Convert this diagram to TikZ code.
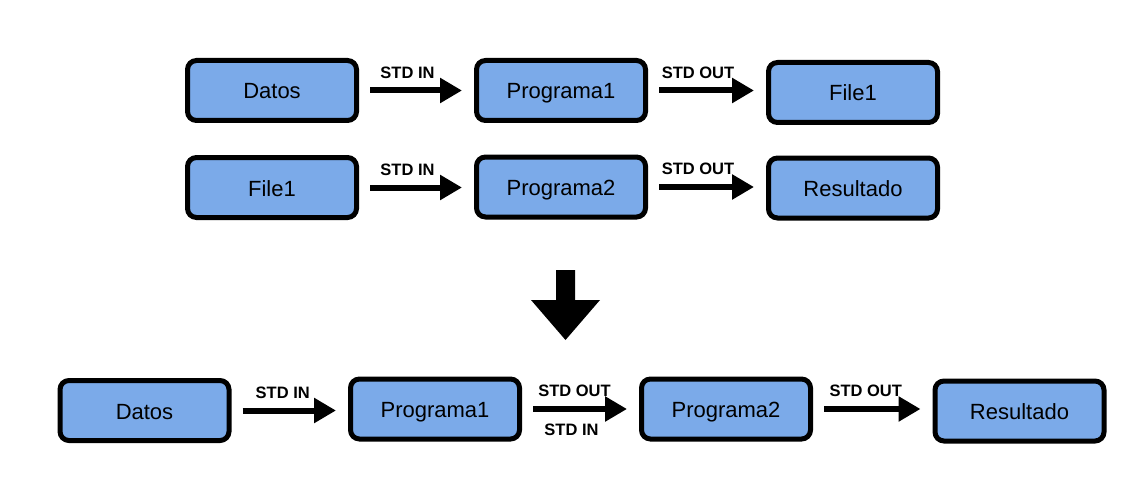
\documentclass[tikz,border=0pt]{standalone}
\usepackage{fontspec}
\setmainfont{Liberation Sans}
\usetikzlibrary{arrows.meta}
\definecolor{boxblue}{HTML}{7BAAE9}
\begin{document}
\begin{tikzpicture}[x=1pt,y=-1pt,
  box/.style={draw=black, line width=5pt, rounded corners=9pt, fill=boxblue,
    minimum width=169pt, minimum height=60pt, inner sep=0pt,
    text height=20pt, text depth=3pt,
    font=\fontsize{22}{26}\selectfont},
  conn/.style={line width=6pt, -{Triangle[length=22pt,width=24pt]},
    shorten <=11pt, shorten >=12pt},
  lbl/.style={font=\fontsize{16.5}{19}\bfseries\selectfont, inner sep=0pt}]
\useasboundingbox (0,0) rectangle (1142,484);
% row 1
\node[box] (d1) at (272,90.5) {Datos};
\node[box] (p1) at (561,90.5) {Programa1};
\node[box] (f1) at (853,92.5) {File1};
% row 2
\node[box] (f2) at (272,187.5) {File1};
\node[box] (p2) at (561,187) {Programa2};
\node[box] (r2) at (853,188) {Resultado};
% row 3
\node[box] (d3) at (144.5,410.5) {Datos};
\node[box] (p3) at (435,409) {Programa1};
\node[box] (q3) at (726,409) {Programa2};
\node[box] (r3) at (1019.5,411) {Resultado};
% connectors
\draw[conn] (d1.east) -- (d1.east -| p1.west) node[lbl, midway, yshift=18pt, xshift=-9pt] {STD IN};
\draw[conn] (p1.east) -- (p1.east -| f1.west) node[lbl, midway, yshift=18pt, xshift=-9pt] {STD OUT};
\draw[conn] (f2.east) -- (f2.east -| p2.west) node[lbl, midway, yshift=18pt, xshift=-9pt] {STD IN};
\draw[conn] (p2.east) -- (p2.east -| r2.west) node[lbl, midway, yshift=18pt, xshift=-9pt] {STD OUT};
\draw[conn] (d3.east) -- (d3.east -| p3.west) node[lbl, midway, yshift=18pt, xshift=-7pt] {STD IN};
\draw[conn] (p3.east) -- (p3.east -| q3.west) node[lbl, midway, yshift=18pt, xshift=-6pt] {STD OUT}
  node[lbl, midway, yshift=-21pt, xshift=-9pt] {STD IN};
\draw[conn] (q3.east) -- (q3.east -| r3.west) node[lbl, midway, yshift=18pt, xshift=-7pt] {STD OUT};
% big down arrow
\fill[black] (556,270) -- (575,270) -- (575,300) -- (600,300) -- (565.5,340) -- (531,300) -- (556,300) -- cycle;
\end{tikzpicture}
\end{document}
